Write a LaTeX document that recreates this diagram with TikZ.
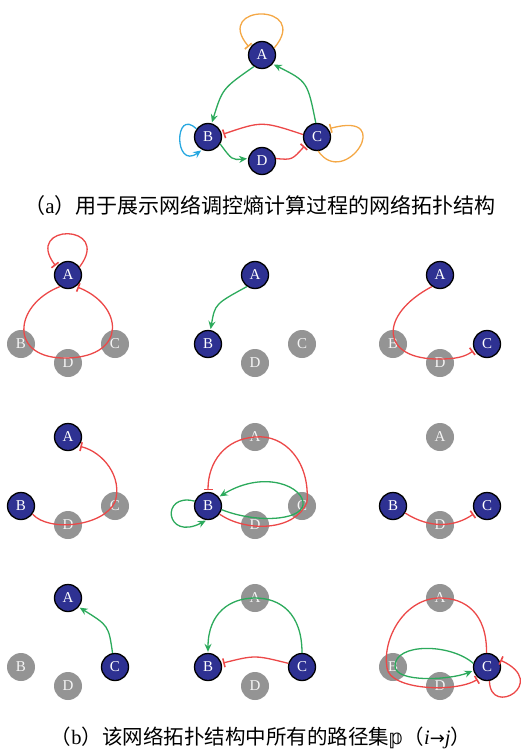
\documentclass[tikz,border=0pt]{standalone}
\usepackage{fontspec}
\setmainfont{Liberation Serif}
\newfontfamily\cjk{Noto Sans CJK SC}
\newfontfamily\dejavu{DejaVu Sans}
\usetikzlibrary{arrows.meta}
\definecolor{navy}{RGB}{46,49,146}
\definecolor{grayn}{RGB}{148,148,148}
\definecolor{myred}{RGB}{236,72,72}
\definecolor{mygreen}{RGB}{44,170,92}
\definecolor{myorange}{RGB}{244,168,70}
\definecolor{myblue}{RGB}{40,168,224}
\tikzset{
  nb/.style={circle,minimum size=27pt,inner sep=0pt,fill=navy,draw=black,line width=1.3pt,text=white,font=\fontsize{15}{15}\selectfont},
  ng/.style={circle,minimum size=28pt,inner sep=0pt,fill=grayn,text=white!92!gray,font=\fontsize{15}{15}\selectfont},
  inhr/.style={draw=myred,line width=1.3pt,shorten >=1.5pt,-{Bar[width=9pt,line width=1.6pt]}},
  inho/.style={draw=myorange,line width=1.3pt,shorten >=1.5pt,-{Bar[width=9pt,line width=1.6pt]}},
  actg/.style={draw=mygreen,line width=1.3pt,shorten >=1pt,-{Stealth[length=8pt,width=7pt]}},
  actb/.style={draw=myblue,line width=1.3pt,shorten >=1pt,-{Stealth[length=8pt,width=7pt]}},
  capt/.style={inner sep=0pt}
}
\newcommand\mkpanel[5]{%
  \node[#2] (A#1) at (0,0) {A};
  \node[#3] (B#1) at (-47,69) {B};
  \node[#4] (C#1) at (47,69) {C};
  \node[#5] (D#1) at (0,88) {D};}
\begin{document}
\begin{tikzpicture}[x=1pt,y=-1pt]
\useasboundingbox (0,0) rectangle (522,754);
% ---------- (a) ----------
\begin{scope}[shift={(262,55)}]
  \node[nb] (A0) at (0,0) {A};
  \node[nb] (B0) at (-54,82) {B};
  \node[nb] (C0) at (55,82) {C};
  \node[nb] (D0) at (0,106) {D};
  \draw[inho] (A0.30) .. controls (50,-52) and (-50,-52) .. (A0.150);
  \draw[actb] (B0.145) .. controls (-88,52) and (-88,115) .. (B0.245);
  \draw[inho] (C0.-85) .. controls (83,135) and (135,55) .. (C0.35);
  \draw[actg] (A0.235) .. controls (-39.5,33.5) .. (B0.75);
  \draw[actg] (C0.95) .. controls (45.5,26.5) .. (A0.-40);
  \draw[inhr] (C0.170) .. controls (0,66) .. (B0.10);
  \draw[actg] (B0.-30) .. controls (-30,105) .. (D0.170);
  \draw[inhr] (D0.10) .. controls (30,105) .. (C0.215);
\end{scope}
\node[capt,font=\fontsize{21}{22}\selectfont] (capa) at (260,206) {{\cjk （}a{\cjk ）用于展示网络调控熵计算过程的网络拓扑结构}};
% ---------- row 1 ----------
\begin{scope}[shift={(68,275)}]
  \mkpanel{1}{nb}{ng}{ng}{ng}
  \draw[inhr] (A1.35) .. controls (45,-52) and (-45,-52) .. (A1.145);
  \draw[inhr] (A1.235) .. controls (-55,30) and (-60,85) .. (0,83)
     .. controls (60,81) and (55,30) .. (A1.-55);
\end{scope}
\begin{scope}[shift={(255,275)}]
  \mkpanel{2}{nb}{nb}{ng}{ng}
  \draw[actg] (A2.235) .. controls (-40,29) .. (B2.80);
\end{scope}
\begin{scope}[shift={(440,275)}]
  \mkpanel{3}{nb}{ng}{nb}{ng}
  \draw[inhr] (A3.235) .. controls (-62,40) and (-60,85) .. (0,84)
     .. controls (15,84) and (25,82) .. (C3.205);
\end{scope}
% ---------- row 2 ----------
\begin{scope}[shift={(68,437)}]
  \mkpanel{4}{nb}{nb}{ng}{ng}
  \draw[inhr] (B4.-35) .. controls (-20,95) and (35,90) .. (47,65)
     .. controls (55,40) and (35,15) .. (A4.-40);
\end{scope}
\begin{scope}[shift={(255,437)}]
  \mkpanel{5}{ng}{nb}{ng}{ng}
  \draw[inhr] (B5.-35) .. controls (-10,95) and (40,95) .. (52,65)
     .. controls (55,25) and (30,-3) .. (0,0)
     .. controls (-30,2) and (-47,25) .. (B5.90);
  \draw[actg] (B5.-15) .. controls (0,86) and (45,84) .. (48,68)
     .. controls (50,50) and (10,32) .. (B5.40);
  \draw[actg] (B5.160) .. controls (-95,55) and (-90,105) .. (B5.-95);
\end{scope}
\begin{scope}[shift={(440,437)}]
  \mkpanel{6}{ng}{nb}{nb}{ng}
  \draw[inhr] (B6.-30) .. controls (-10,92) and (15,90) .. (C6.210);
\end{scope}
% ---------- row 3 ----------
\begin{scope}[shift={(68,598)}]
  \mkpanel{7}{nb}{ng}{nb}{ng}
  \draw[actg] (C7.100) .. controls (40.6,27.6) .. (A7.-40);
\end{scope}
\begin{scope}[shift={(255,598)}]
  \mkpanel{8}{ng}{nb}{nb}{ng}
  \draw[actg] (C8.90) .. controls (47,15) and (25,0) .. (0,0)
     .. controls (-25,0) and (-47,15) .. (B8.90);
  \draw[inhr] (C8.165) .. controls (0,57) .. (B8.15);
\end{scope}
\begin{scope}[shift={(440,598)}]
  \mkpanel{9}{ng}{ng}{nb}{ng}
  \draw[inhr] (C9.92) .. controls (47,15) and (25,0) .. (0,0)
     .. controls (-35,0) and (-58,40) .. (-53,70)
     .. controls (-50,92) and (15,95) .. (C9.235);
  \draw[actg] (C9.165) .. controls (10,45) and (-45,45) .. (-45,68)
     .. controls (-45,85) and (10,82) .. (C9.195);
  \draw[inhr] (C9.-80) .. controls (50,120) and (110,85) .. (C9.32);
\end{scope}
\node[capt,font=\fontsize{20.5}{22}\selectfont] (capb) at (261,738) {{\cjk （}b{\cjk ）该网络拓扑结构中所有的路径集}{\dejavu 𝕡}{\cjk （}{\itshape i}{\dejavu\fontsize{18}{18}\selectfont →}{\itshape j}{\cjk ）}};
\end{tikzpicture}
\end{document}
